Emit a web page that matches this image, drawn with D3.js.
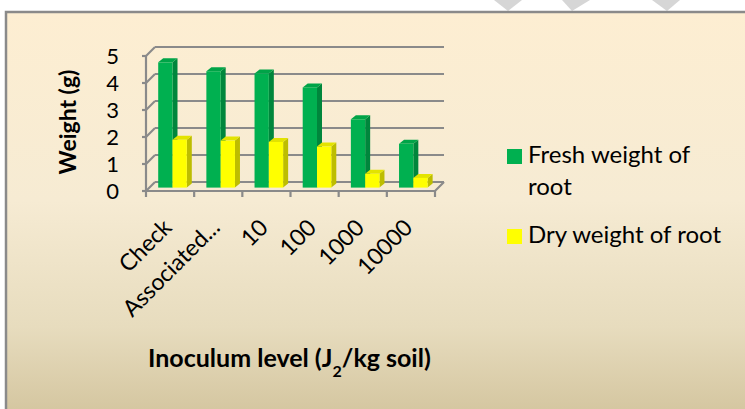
<!DOCTYPE html>
<html>
<head>
<meta charset="utf-8">
<script src="https://cdn.jsdelivr.net/npm/d3@7"></script>
<style>
  body { margin: 0; background: #fff; }
  text { font-family: Lato, "Open Sans", sans-serif; fill: #000; }
</style>
</head>
<body>
<svg id="chart" width="745" height="409"></svg>
<script>
// chart values
var categories = ["Check", "Associated...", "10", "100", "1000", "10000"];
var freshWeight = [4.64, 4.31, 4.23, 3.71, 2.53, 1.62];
var dryWeight = [1.77, 1.74, 1.69, 1.52, 0.51, 0.36];
var yTicks = [0, 1, 2, 3, 4, 5];
var seriesNames = ["Fresh weight of root", "Dry weight of root"];

var svg = d3.select("#chart");
var defs = svg.append("defs");

var grad = defs.append("linearGradient")
  .attr("id", "bg")
  .attr("x1", 0).attr("y1", 0)
  .attr("x2", 0).attr("y2", 1);
grad.append("stop").attr("offset", "0").attr("stop-color", "#fdeed2");
grad.append("stop").attr("offset", "0.45").attr("stop-color", "#f6ebd3");
grad.append("stop").attr("offset", "0.75").attr("stop-color", "#e7dcbe");
grad.append("stop").attr("offset", "1").attr("stop-color", "#d0c199");

// little watermark bits peeking above the frame
var wm = svg.append("g").attr("fill", "#d6d6d6");
[[494, 0, 522, 0, 508, 11], [562, 0, 590, 0, 572, 11], [652, 0, 680, 0, 667, 11]]
  .forEach(function(p) {
    wm.append("path").attr("d", "M" + p[0] + "," + p[1] + "L" + p[2] + "," + p[3] + "L" + p[4] + "," + p[5] + "Z");
  });

svg.append("rect")
  .attr("x", 6).attr("y", 12)
  .attr("width", 800).attr("height", 420)
  .attr("fill", "url(#bg)")
  .attr("stroke", "#8a8a8a")
  .attr("stroke-width", 2.5);

// 3d geometry: front plane, wall depth, bar plane
var depth = { dx: 9, dy: -9 };
var barShift = { dx: 3.5, dy: -3.4 };
var barDepth = { dx: 5, dy: -4 };

var x = d3.scaleBand().domain(categories).range([146, 435]);
var y = d3.scaleLinear().domain([0, 5]).range([191, 56]);

var gridColor = "#8a8a8a";
var grid = svg.append("g")
  .attr("stroke", gridColor)
  .attr("stroke-width", 2.2)
  .attr("fill", "none");

// back wall gridlines
grid.selectAll("line.back")
  .data(yTicks)
  .enter()
  .append("line")
  .attr("class", "back")
  .attr("x1", x.range()[0] + depth.dx)
  .attr("x2", x.range()[1] + depth.dx)
  .attr("y1", function(d) { return y(d) + depth.dy; })
  .attr("y2", function(d) { return y(d) + depth.dy; });

// side wall diagonals + left ticks
grid.selectAll("line.side")
  .data(yTicks)
  .enter()
  .append("line")
  .attr("class", "side")
  .attr("x1", x.range()[0])
  .attr("x2", x.range()[0] + depth.dx)
  .attr("y1", function(d) { return y(d); })
  .attr("y2", function(d) { return y(d) + depth.dy; });
grid.selectAll("line.ytick")
  .data(yTicks)
  .enter()
  .append("line")
  .attr("class", "ytick")
  .attr("x1", x.range()[0] - 4)
  .attr("x2", x.range()[0])
  .attr("y1", function(d) { return y(d); })
  .attr("y2", function(d) { return y(d); });

grid.append("line")
  .attr("x1", x.range()[0]).attr("x2", x.range()[0])
  .attr("y1", y(0)).attr("y2", y(5));

// floor front edge, right diagonal and category ticks
grid.append("path")
  .attr("d", "M" + x.range()[0] + "," + y(0) +
    "L" + x.range()[1] + "," + y(0) +
    "L" + (x.range()[1] + depth.dx) + "," + (y(0) + depth.dy));
var tickPos = categories.map(function(c) { return x(c); }).concat([x.range()[1]]);
grid.selectAll("line.xtick")
  .data(tickPos)
  .enter()
  .append("line")
  .attr("class", "xtick")
  .attr("x1", function(d) { return d; })
  .attr("x2", function(d) { return d; })
  .attr("y1", y(0))
  .attr("y2", y(0) + 6);

// bars
var barW = 14.3;
var barOffset = 8.7;
var colors = [
  { front: "#00b050", side: "#00863c", top: "#00a448" },
  { front: "#ffff00", side: "#bdbd00", top: "#e3e300" }
];

var drawBar = function drawBar(g, x0, v, col) {
  var bx = x0 + barShift.dx;
  var by0 = y(0) + barShift.dy;
  var by1 = y(v) + barShift.dy;
  g.append("path")
    .attr("fill", col.side)
    .attr("d", "M" + (bx + barW) + "," + by0 +
      "L" + (bx + barW) + "," + by1 +
      "L" + (bx + barW + barDepth.dx) + "," + (by1 + barDepth.dy) +
      "L" + (bx + barW + barDepth.dx) + "," + (by0 + barDepth.dy) + "Z");
  g.append("path")
    .attr("fill", col.top)
    .attr("d", "M" + bx + "," + by1 +
      "L" + (bx + barW) + "," + by1 +
      "L" + (bx + barW + barDepth.dx) + "," + (by1 + barDepth.dy) +
      "L" + (bx + barDepth.dx) + "," + (by1 + barDepth.dy) + "Z");
  g.append("rect")
    .attr("fill", col.front)
    .attr("x", bx).attr("y", by1)
    .attr("width", barW).attr("height", by0 - by1);
};

var bars = svg.append("g");
categories.forEach(function(c, i) {
  var g = bars.append("g");
  drawBar(g, x(c) + barOffset, freshWeight[i], colors[0]);
  drawBar(g, x(c) + barOffset + barW, dryWeight[i], colors[1]);
});

// y tick labels
svg.append("g")
  .selectAll("text")
  .data(yTicks)
  .enter()
  .append("text")
  .attr("x", 119)
  .attr("y", function(d) { return y(d); })
  .attr("dy", "0.36em")
  .attr("text-anchor", "end")
  .style("font-size", "22px")
  .text(function(d) { return d; });

svg.append("text")
  .attr("transform", "translate(76,122) rotate(-90)")
  .attr("text-anchor", "middle")
  .style("font-size", "23px")
  .style("font-weight", "bold")
  .text("Weight (g)");

// category labels
svg.append("g")
  .selectAll("text")
  .data(categories)
  .enter()
  .append("text")
  .attr("transform", function(d) {
    return "translate(" + (x(d) + x.bandwidth() / 2 + 3) + ",229) rotate(-45)";
  })
  .attr("text-anchor", "end")
  .style("font-size", "23px")
  .text(function(d) { return d; });

// x title
var xt = svg.append("text")
  .attr("x", 148).attr("y", 367)
  .style("font-size", "25px")
  .style("font-weight", "bold");
xt.append("tspan").text("Inoculum level (J");
xt.append("tspan").attr("baseline-shift", "sub").style("font-size", "16px").text("2");
xt.append("tspan").text("/kg soil)");

// legend
var legend = svg.append("g");
var legendRows = [
  { lines: ["Fresh weight of", "root"], y: 163, col: colors[0].front },
  { lines: ["Dry weight of root"], y: 243, col: colors[1].front }
];
legendRows.forEach(function(r, i) {
  legend.append("rect")
    .attr("x", 507).attr("y", r.y - 14)
    .attr("width", 15).attr("height", 15)
    .attr("fill", r.col);
  var t = legend.append("text")
    .attr("x", 528).attr("y", r.y)
    .style("font-size", "24px")
    .attr("data-series", seriesNames[i]);
  r.lines.forEach(function(line, j) {
    t.append("tspan")
      .attr("x", 528)
      .attr("dy", j === 0 ? 0 : 32)
      .text(line);
  });
});
</script>
</body>
</html>
